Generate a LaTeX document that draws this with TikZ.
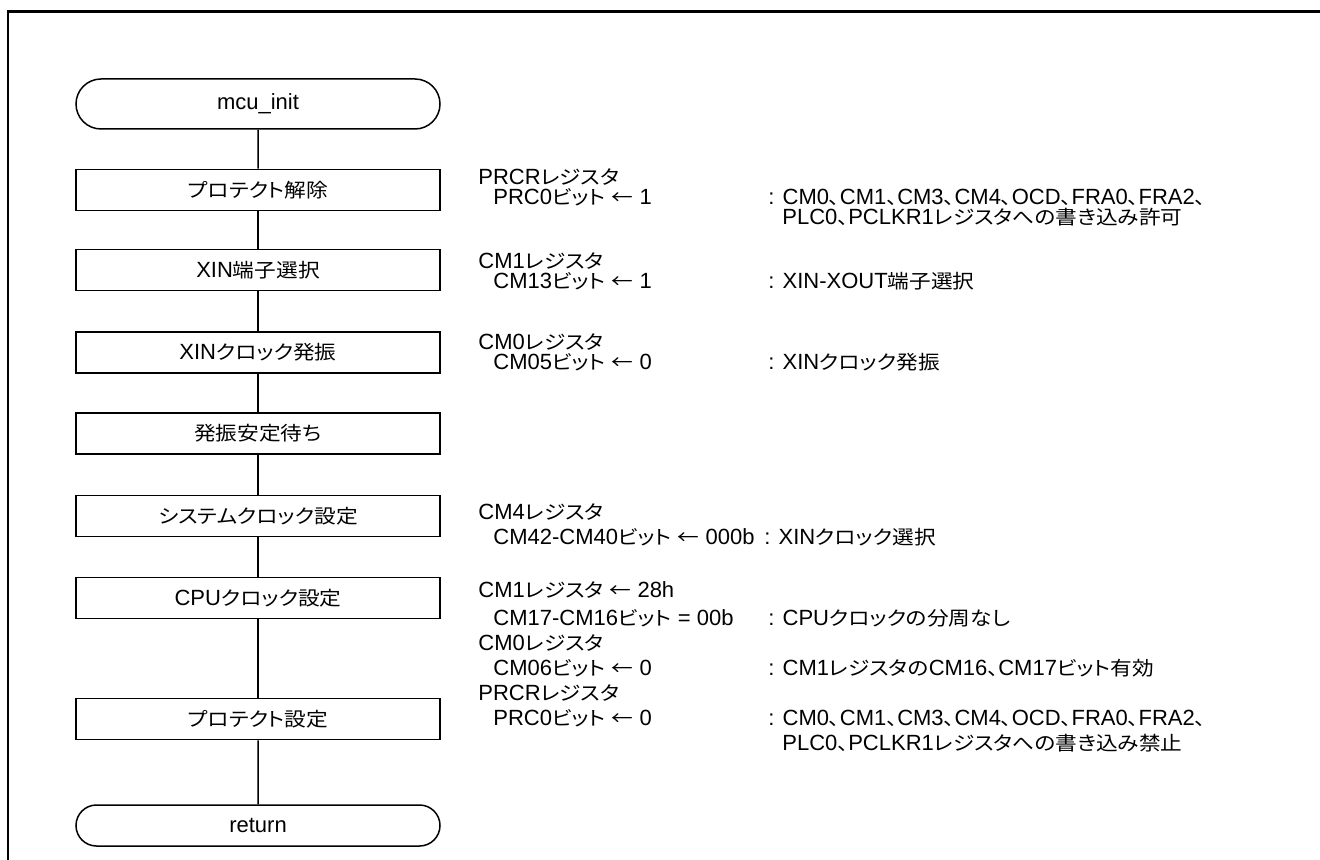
\documentclass[tikz,border=0pt]{standalone}
\usepackage{fontspec}
\usetikzlibrary{shapes.misc}
\setmainfont{Liberation Sans}
\newfontfamily\jpfont[Scale=0.88,FakeStretch=1.12,RawFeature=+palt]{Noto Sans CJK JP}
\XeTeXinterchartokenstate=1
\newXeTeXintercharclass\jpclass
\count255="3000
\loop\XeTeXcharclass\count255=\jpclass\ifnum\count255<"30FF\advance\count255 by 1\repeat
\count255="4E00
\loop\XeTeXcharclass\count255=\jpclass\ifnum\count255<"9FFF\advance\count255 by 1\repeat
\XeTeXcharclass"2190=\jpclass
\XeTeXinterchartoks 0 \jpclass={\jpfont}
\XeTeXinterchartoks 4095 \jpclass={\jpfont}
\XeTeXinterchartoks \jpclass 0={\rmfamily}
\XeTeXinterchartoks \jpclass 4095={\rmfamily}
\tikzset{
  txt/.style={font=\fontsize{11pt}{13pt}\selectfont},
  procbox/.style={txt,draw,line width=0.75pt,minimum width=182pt,minimum height=20.5pt,inner sep=0pt},
  termbox/.style={txt,draw,line width=0.75pt,shape=rounded rectangle,minimum width=182pt,inner sep=0pt},
  note/.style={txt,anchor=base west,inner sep=0pt},
  link/.style={line width=0.75pt}
}
\begin{document}
\begin{tikzpicture}[x=0.5pt,y=-0.5pt]
\useasboundingbox (0,0) rectangle (1320,860);
\draw[line width=1.4pt] (1320,11.5) -- (8,11.5) -- (8,860);
% flow
\node[termbox,minimum height=25pt] (start) at (258,104) {mcu\_init};
\node[procbox] (b1) at (258,190) {プロテクト解除};
\node[procbox] (b2) at (258,270) {XIN端子選択};
\node[procbox] (b3) at (258,352.5) {XINクロック発振};
\node[procbox] (b4) at (258,433.5) {発振安定待ち};
\node[procbox] (b5) at (258,516) {システムクロック設定};
\node[procbox] (b6) at (258,598) {CPUクロック設定};
\node[procbox] (b7) at (258,719) {プロテクト設定};
\node[termbox,minimum height=20.5pt] (ret) at (258,825.5) {return};
\draw[link] (start) -- (b1);
\draw[link] (b1) -- (b2);
\draw[link] (b2) -- (b3);
\draw[link] (b3) -- (b4);
\draw[link] (b4) -- (b5);
\draw[link] (b5) -- (b6);
\draw[link] (b6) -- (b7);
\draw[link] (b7) -- (ret);
% notes
\node[note] (n1a) at (478,185) {PRCRレジスタ};
\node[note] (n1b) at (493,205) {PRC0ビット ← 1};
\node[note] (n1c) at (768,205) {: CM0、CM1、CM3、CM4、OCD、FRA0、FRA2、};
\node[note] (n1d) at (782,225) {PLC0、PCLKR1レジスタへの書き込み許可};
\node[note] (n2a) at (478,269) {CM1レジスタ};
\node[note] (n2b) at (493,289) {CM13ビット ← 1};
\node[note] (n2c) at (768,289) {: XIN-XOUT端子選択};
\node[note] (n3a) at (478,350) {CM0レジスタ};
\node[note] (n3b) at (493,370) {CM05ビット ← 0};
\node[note] (n3c) at (768,370) {: XINクロック発振};
\node[note] (n5a) at (478,519) {CM4レジスタ};
\node[note] (n5b) at (493,544) {CM42-CM40ビット ← 000b};
\node[note] (n5c) at (764,544) {: XINクロック選択};
\node[note] (n6a) at (478,597) {CM1レジスタ ← 28h};
\node[note] (n6b) at (493,625) {CM17-CM16ビット = 00b};
\node[note] (n6c) at (768,625) {: CPUクロックの分周なし};
\node[note] (n6d) at (478,650) {CM0レジスタ};
\node[note] (n6e) at (493,675) {CM06ビット ← 0};
\node[note] (n6f) at (768,675) {: CM1レジスタのCM16、CM17ビット有効};
\node[note] (n7a) at (478,700) {PRCRレジスタ};
\node[note] (n7b) at (493,725) {PRC0ビット ← 0};
\node[note] (n7c) at (768,725) {: CM0、CM1、CM3、CM4、OCD、FRA0、FRA2、};
\node[note] (n7d) at (782,750) {PLC0、PCLKR1レジスタへの書き込み禁止};
\end{tikzpicture}
\end{document}
